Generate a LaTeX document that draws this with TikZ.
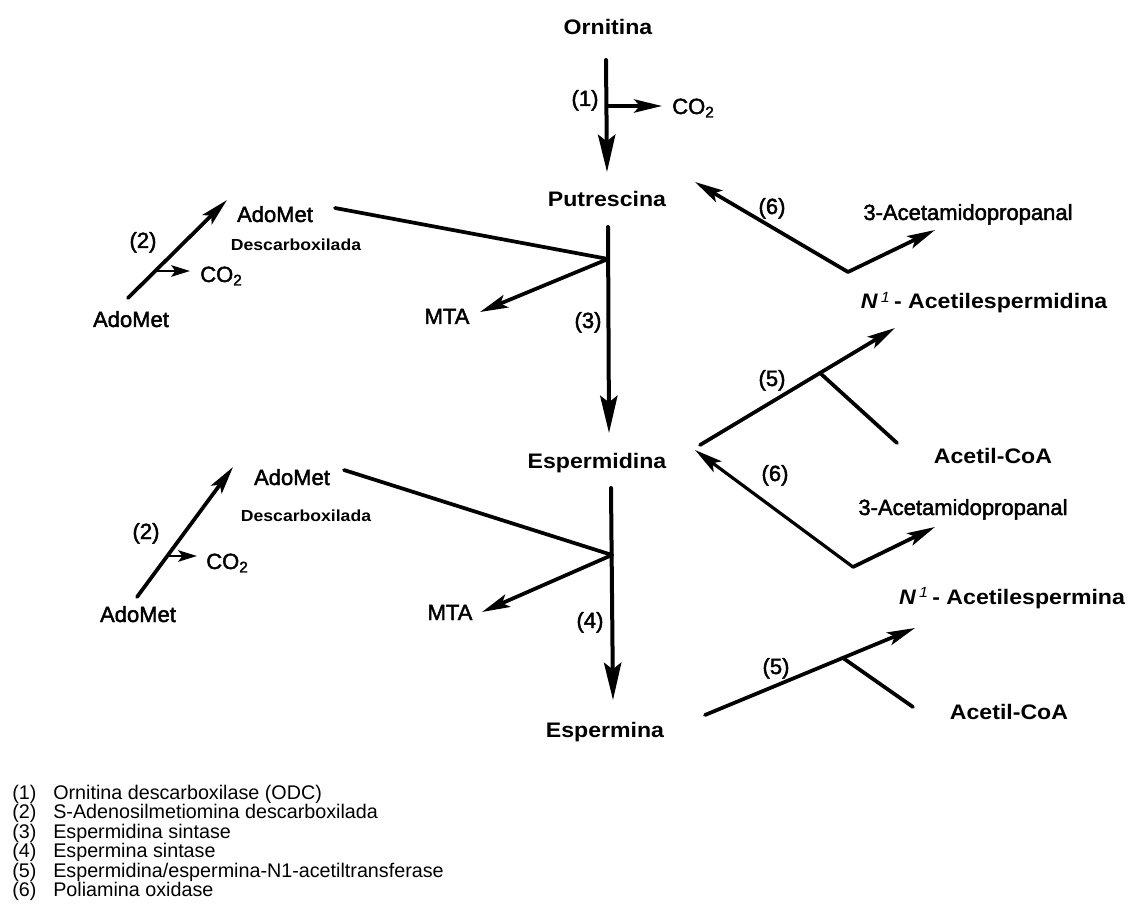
\documentclass[tikz,border=0pt]{standalone}
\usepackage{fontspec}
\setmainfont{Liberation Sans}
\newfontfamily\labfont[FakeStretch=1.1]{Liberation Sans}
\newfontfamily\medfont[FakeBold=2]{Liberation Sans}
\usetikzlibrary{arrows.meta}
\tikzset{
  lab/.style={font=\labfont\bfseries\fontsize{15.75}{18}\selectfont, inner sep=0pt, anchor=base},
  med/.style={font=\medfont\fontsize{16.5}{19}\selectfont, inner sep=0pt, anchor=base},
  sml/.style={font=\labfont\bfseries\fontsize{12}{14}\selectfont, inner sep=0pt, anchor=base},
  leg/.style={font=\fontsize{14.8}{17}\selectfont, inner sep=0pt, anchor=base west},
  ln/.style={line width=2.8pt, line cap=round},
  arrB/.style={ln, line width=3pt, -{Stealth[length=28pt,width=13pt,inset=5pt]}},
  arrM/.style={ln, -{Stealth[length=21pt,width=10pt,inset=4.5pt]}},
  arrS/.style={ln, line width=2.2pt, -{Stealth[length=14pt,width=8.5pt,inset=3pt]}},
}
\begin{document}
\begin{tikzpicture}[x=0.75pt,y=-0.75pt]
\useasboundingbox (0,0) rectangle (1128,923);
\fill[white] (0,0) rectangle (1128,923);

% main column labels
\node[lab] (orn) at (608,35) {Ornitina};
\node[lab] (put) at (607,207) {Putrescina};
\node[lab] (esd) at (597,468) {Espermidina};
\node[lab] (esm) at (605,737) {Espermina};

% step (1)
\coordinate (a1s) at (606,60);
\coordinate (a1e) at (607,172);
\coordinate (b1) at (607,106);
\coordinate (b1e) at (662,106);
\draw[arrB] (a1s) -- (a1e);
\draw[arrM] (b1) -- (b1e);
\node[med] (n1) at (585,106) {(1)};
\node[med, anchor=base west] (co2a) at (672,114) {CO\textsubscript{2}};

% step (3)
\coordinate (a3s) at (608,227);
\coordinate (a3e) at (609,433);
\coordinate (j1) at (608,259);
\draw[arrB] (a3s) -- (a3e);
\node[med] (n3) at (588,328) {(3)};
\coordinate (l1s) at (335,208);
\draw[ln] (l1s) -- (j1);
\coordinate (m1) at (480,312);
\draw[arrM] (j1) -- (m1);
\node[med] (mta1) at (447,324) {MTA};

% upper AdoMet group
\node[med] (adoA1) at (131,327) {AdoMet};
\node[med] (adoB1) at (275,222) {AdoMet};
\node[sml] (desc1) at (296,251) {Descarboxilada};
\coordinate (a2s) at (128,298);
\coordinate (a2e) at (227,200);
\draw[arrM] (a2s) -- (a2e);
\coordinate (b2) at (155,271);
\coordinate (b2e) at (190,271);
\draw[arrS] (b2) -- (b2e);
\node[med] (n2a) at (143,248) {(2)};
\node[med, anchor=base west] (co2b) at (200,282) {CO\textsubscript{2}};

% step (4)
\coordinate (a4s) at (611,488);
\coordinate (a4e) at (613,700);
\coordinate (j2) at (612,555);
\draw[arrB] (a4s) -- (a4e);
\node[med] (n4) at (590,628) {(4)};
\coordinate (l2s) at (344,470);
\draw[ln] (l2s) -- (j2);
\coordinate (m2) at (482,612);
\draw[arrM] (j2) -- (m2);
\node[med] (mta2) at (450,620) {MTA};

% lower AdoMet group
\node[med] (adoA2) at (138,622) {AdoMet};
\node[med] (adoB2) at (292,485) {AdoMet};
\node[sml] (desc2) at (306,521) {Descarboxilada};
\coordinate (c2s) at (137,597);
\coordinate (c2e) at (233,467);
\draw[arrM] (c2s) -- (c2e);
\coordinate (d2) at (167,556);
\coordinate (d2e) at (197,556);
\draw[arrS] (d2) -- (d2e);
\node[med] (n2b) at (146,539) {(2)};
\node[med, anchor=base west] (co2c) at (206,569) {CO\textsubscript{2}};

% right side, upper (6)
\coordinate (v1) at (848,272);
\coordinate (t6a) at (695,182);
\coordinate (ta1) at (935,230);
\draw[arrM] (v1) -- (t6a);
\draw[arrM] (v1) -- (ta1);
\node[med] (n6a) at (772,214) {(6)};
\node[med] (acet1) at (968,220) {3-Acetamidopropanal};
\node[lab] (nas1) at (984,309) {{\itshape N\,\textsuperscript{\mdseries 1}}\,- Acetilespermidina};

% right side, upper (5)
\coordinate (s5a) at (700,445);
\coordinate (t5a) at (895,328);
\coordinate (b5a) at (820,373);
\coordinate (b5ae) at (897,443);
\draw[arrM] (s5a) -- (t5a);
\draw[ln] (b5a) -- (b5ae);
\node[med] (n5a) at (772,386) {(5)};
\node[lab] (acoa1) at (993,464) {Acetil-CoA};

% right side, lower (6)
\coordinate (v2) at (853,567);
\coordinate (t6b) at (695,450);
\coordinate (ta2) at (935,527);
\draw[arrM, line width=2.4pt] (v2) -- (t6b);
\draw[arrM] (v2) -- (ta2);
\node[med] (n6b) at (775,481) {(6)};
\node[med] (acet2) at (963,515) {3-Acetamidopropanal};
\node[lab] (nas2) at (1012,604) {{\itshape N\,\textsuperscript{\mdseries 1}}\,- Acetilespermina};

% right side, lower (5)
\coordinate (s5b) at (705,715);
\coordinate (t5b) at (915,628);
\coordinate (b5b) at (843,658);
\coordinate (b5be) at (913,707);
\draw[arrM] (s5b) -- (t5b);
\draw[ln] (b5b) -- (b5be);
\node[med] (n5b) at (776,674) {(5)};
\node[lab] (acoa2) at (1009,719) {Acetil-CoA};

% legend
\node[leg] (k1) at (12,799) {(1)};
\node[leg] (e1) at (53,799) {Ornitina descarboxilase (ODC)};
\node[leg] (k2) at (12,818.5) {(2)};
\node[leg] (e2) at (53,818.5) {S-Adenosilmetiomina descarboxilada};
\node[leg] (k3) at (12,838) {(3)};
\node[leg] (e3) at (53,838) {Espermidina sintase};
\node[leg] (k4) at (12,857.5) {(4)};
\node[leg] (e4) at (53,857.5) {Espermina sintase};
\node[leg] (k5) at (12,877) {(5)};
\node[leg] (e5) at (53,877) {Espermidina/espermina-N1-acetiltransferase};
\node[leg] (k6) at (12,896.5) {(6)};
\node[leg] (e6) at (53,896.5) {Poliamina oxidase};
\end{tikzpicture}
\end{document}
